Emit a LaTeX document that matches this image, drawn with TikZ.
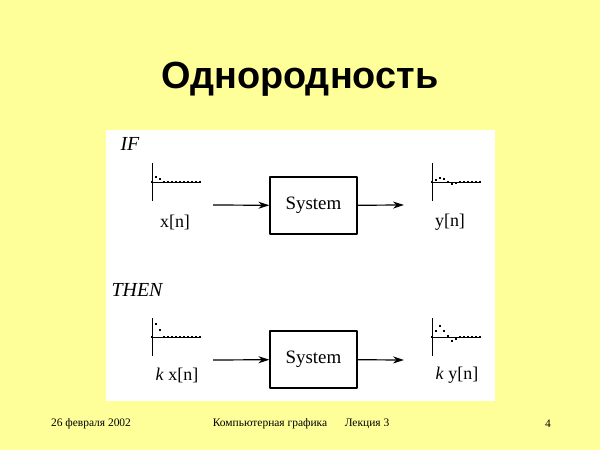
\documentclass[tikz,border=0pt]{standalone}
\usepackage{fontspec}
\setmainfont{Liberation Serif}
\newfontfamily\titlefont{Liberation Sans}
\usetikzlibrary{arrows.meta}
\definecolor{slidebg}{RGB}{255,255,153}
\tikzset{
  sysbox/.style={draw, line width=1.2bp, minimum width=87bp, minimum height=57bp, inner sep=0pt, font=\fontsize{19}{21}\selectfont},
  sigdot/.style={fill, inner sep=0pt, minimum size=2bp},
  footer/.style={font=\fontsize{11.5}{12}\selectfont}
}
\begin{document}
\begin{tikzpicture}[x=1bp, y=-1bp, line join=round, >={Stealth[length=11bp,width=7bp]}, font=\fontsize{18}{20}\selectfont]
  \useasboundingbox[fill=slidebg] (0,0) rectangle (600,450);
  \fill[white] (106,130) rectangle (495,401);
  \node (title) at (300,79) {\titlefont\bfseries\fontsize{38}{40}\selectfont Однородность};
  % stem plots of the signals
  \foreach \ox/\oy/\vals in {152/182/{0,5,3,0,0,0,0,0,0,0,0,0,0},
      432/182/{0,2,4.3,2.7,0,-1.7,-0.7,0,0,0,0,0,0},
      152/337/{0,13,7,0,0,0,0,0,0,0,0,0,0},
      432/337/{0,6,11,6,1,-4,-1.7,0,0,0,0,0,0}}{
    \draw[line width=0.8bp] (\ox,\oy-19) -- (\ox,\oy+19);
    \draw[line width=0.8bp] (\ox,\oy) -- (\ox+48,\oy);
    \foreach \v [count=\n from 0] in \vals
      \node[sigdot] at (\ox+4*\n,\oy-\v) {};
  }
  % IF
  \node[font=\fontsize{20}{22}\selectfont\itshape] (if) at (130,144) {IF};
  \coordinate (in1) at (213,205);
  \node[sysbox] (sys1) at (313.5,205.5) {System};
  \coordinate (out1) at (404,205);
  \draw[->, line width=1.2bp] (in1) -- (sys1);
  \draw[->, line width=1.2bp] (sys1) -- (out1);
  \node (xn) at (175,222) {x[n]};
  \node (yn) at (450,222) {y[n]};
  % THEN
  \node[font=\fontsize{20}{22}\selectfont\itshape] (then) at (137,290) {THEN};
  \coordinate (in2) at (213,360);
  \node[sysbox] (sys2) at (313.5,359.5) {System};
  \coordinate (out2) at (404,360);
  \draw[->, line width=1.2bp] (in2) -- (sys2);
  \draw[->, line width=1.2bp] (sys2) -- (out2);
  \node (kxn) at (177,375) {\textit{k} x[n]};
  \node (kyn) at (457,375) {\textit{k} y[n]};
  % footer
  \node[footer] (date) at (91,424) {26 февраля 2002};
  \node[footer] (course) at (270,424) {Компьютерная графика};
  \node[footer] (lecture) at (367,424) {Лекция 3};
  \node[footer] (page) at (548,424) {4};
\end{tikzpicture}
\end{document}
